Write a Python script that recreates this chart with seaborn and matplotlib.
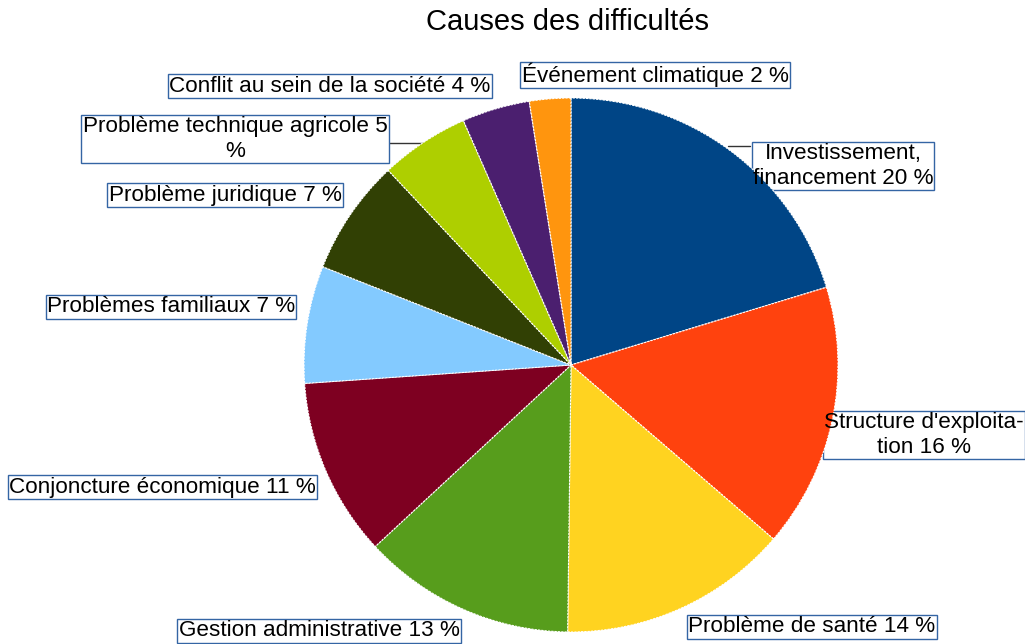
import matplotlib
matplotlib.use("Agg")
import matplotlib.pyplot as plt
import seaborn as sns

categories = ["Investissement, financement", "Structure d'exploitation", "Problème de santé",
              "Gestion administrative", "Conjoncture économique", "Problèmes familiaux",
              "Problème juridique", "Problème technique agricole", "Conflit au sein de la société",
              "Événement climatique"]
values = [20.3, 16.0, 13.9, 12.9, 10.8, 7.1, 7.0, 5.4, 4.1, 2.5]
label_text = ["Investissement,\nfinancement 20 %", "Structure d'exploita-\ntion 16 %",
              "Problème de santé 14 %", "Gestion administrative 13 %",
              "Conjoncture économique 11 %", "Problèmes familiaux 7 %",
              "Problème juridique 7 %", "Problème technique agricole 5\n%",
              "Conflit au sein de la société 4 %", "Événement climatique 2 %"]
colors = ["#004586", "#ff420e", "#ffd320", "#579d1c", "#7e0021", "#83caff",
          "#314004", "#aecf00", "#4b1f6f", "#ff950e"]

# layout (pixels)
W, H = 1025, 644
label_pos = [(843, 166), (924, 435), (812, 627), (319, 631), (162, 487),
             (171, 307), (225, 195), (235, 139), (330, 86), (655, 75)]
leaders = [((728, 146), (750, 146)), ((388, 143), (424, 143))]

sns.set_theme(style="white")
plt.rcParams['font.family'] = ['Liberation Sans', 'DejaVu Sans']

fig = plt.figure(figsize=(W / 100, H / 100), dpi=100)
cx, cy, r = 571, 365, 267
ax = fig.add_axes([(cx - r) / W, (H - cy - r) / H, 2 * r / W, 2 * r / H])
ax.set_zorder(1)
ax.patch.set_visible(False)
pal = sns.color_palette(colors)
ax.pie(values, colors=pal, startangle=90, counterclock=False, radius=1,
       wedgeprops=dict(edgecolor="white", linewidth=0.8, linestyle=(0, (2, 1))))
ax.set_xlim(-1, 1)
ax.set_ylim(-1, 1)
ax.set_aspect("equal")
ax.axis("off")

for (x0, y0), (x1, y1) in leaders:
    fig.add_artist(plt.Line2D([x0 / W, x1 / W], [1 - y0 / H, 1 - y1 / H],
                              color="#333333", linewidth=1, transform=fig.transFigure,
                              zorder=0))

for txt, (x, y) in zip(label_text, label_pos):
    # box behind the pie
    fig.text(x / W, 1 - y / H, txt, ha="center", va="center", fontsize=16.2,
             color="none", linespacing=1.2, zorder=0,
             bbox=dict(boxstyle="square,pad=0.05", facecolor="white",
                       edgecolor="#3465a4", linewidth=1))
    # text above the pie
    fig.text(x / W, 1 - y / H, txt, ha="center", va="center", fontsize=16.2,
             color="black", linespacing=1.2, zorder=3)

fig.text(567 / W, 1 - 22 / H, "Causes des difficultés", ha="center", va="center",
         fontsize=21, color="black")

fig.savefig("out.png", dpi=100)
